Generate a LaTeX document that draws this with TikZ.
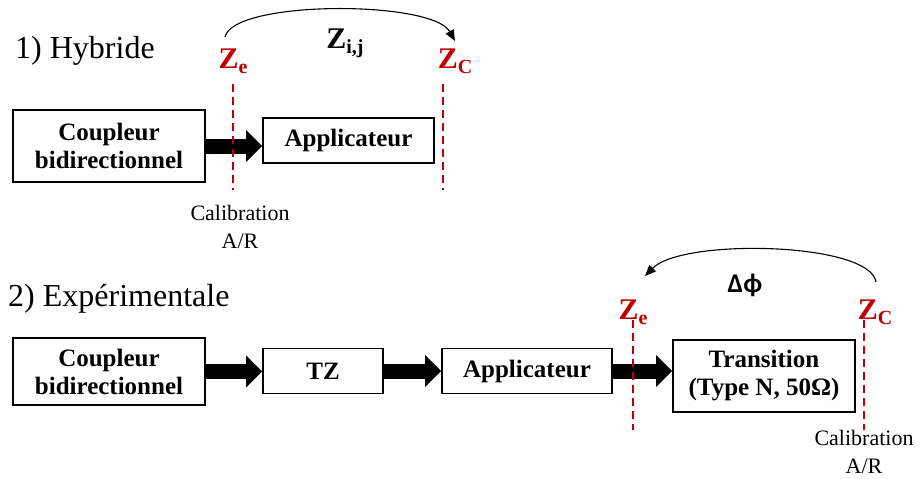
\documentclass[tikz,border=0pt]{standalone}
\usepackage{fontspec}
\setmainfont{Liberation Serif}
\newfontfamily\calib{Carlito}
\usetikzlibrary{arrows.meta}
\definecolor{zred}{HTML}{C00000}
\newcommand{\zlab}[1]{Z\raisebox{-0.35ex}{\fontsize{20}{20}\selectfont #1}}
\begin{document}
\begin{tikzpicture}[x=1pt,y=-1pt,
  box/.style={draw=black,line width=1.8pt,fill=white,align=center,inner sep=0pt,
    font=\bfseries\fontsize{25}{28}\selectfont},
  fat/.style={line width=15pt,-{Triangle[length=16pt,width=31pt]}},
  cut/.style={draw=zred,line width=2pt,dash pattern=on 8pt off 5pt},
  zl/.style={text=zred,font=\bfseries\fontsize{30}{30}\selectfont,inner sep=0pt},
  arc/.style={line width=1.1pt,-{Triangle[length=11pt,width=9pt]}},
  title/.style={anchor=base west,inner sep=0pt,font=\fontsize{32}{32}\selectfont},
  calib/.style={align=center,inner sep=0pt,font=\fontsize{22}{28}\selectfont}]
\useasboundingbox (0,0) rectangle (924,479);
% ---- row 1
\node[title] (t1) at (15,58) {1) Hybride};
\node[box,minimum width=192pt,minimum height=72pt] (c1) at (109,146) {Coupleur\\bidirectionnel};
\node[box,minimum width=171pt,minimum height=45pt] (a1) at (348.5,140.5) {Applicateur};
\draw[fat] (c1.east) -- (c1.east -| a1.west);
\coordinate (d1t) at (233,84); \coordinate (d1b) at (233,190);
\coordinate (d2t) at (443,84); \coordinate (d2b) at (443,190);
\draw[cut] (d1t) -- (d1b);
\draw[cut] (d2t) -- (d2b);
\node[zl] (ze1) at (233,61) {\zlab{e}};
\node[zl] (zc1) at (455,61) {\zlab{C}};
\node[font=\bfseries\fontsize{30}{30}\selectfont,inner sep=0pt] (zij) at (345,43) {Z\raisebox{-0.35ex}{\fontsize{20}{20}\selectfont i,j}};
\coordinate (s1) at (225,37); \coordinate (e1) at (455,41);
\draw[arc] (s1) .. controls (233,0) and (432,0) .. (e1);
\node[calib] (cal1) at (240,227) {Calibration\\A/R};
% ---- row 2
\node[title] (t2) at (8,306) {2) Expérimentale};
\node[box,minimum width=192pt,minimum height=67pt] (c2) at (109,371.5) {Coupleur\\bidirectionnel};
\node[box,minimum width=120pt,minimum height=45pt] (tz) at (323,371) {TZ};
\node[box,minimum width=170pt,minimum height=45pt] (a2) at (527,371) {Applicateur};
\node[box,minimum width=182pt,minimum height=72pt] (tr) at (764,376) {Transition\\(Type N, 50Ω)};
\draw[fat] (c2.east) -- (c2.east -| tz.west);
\draw[fat] (tz.east) -- (tz.east -| a2.west);
\draw[fat] (a2.east) -- (a2.east -| tr.west);
\coordinate (d3t) at (633,320); \coordinate (d3b) at (633,430);
\coordinate (d4t) at (864,320); \coordinate (d4b) at (864,430);
\draw[cut] (d3t) -- (d3b);
\draw[cut] (d4t) -- (d4b);
\node[zl] (ze2) at (633,312) {\zlab{e}};
\node[zl] (zc2) at (875,312) {\zlab{C}};
\node[font=\calib\bfseries\fontsize{27}{27}\selectfont,inner sep=0pt] (dphi) at (745,285) {Δϕ};
\coordinate (s2) at (876,282); \coordinate (e2) at (645,276);
\draw[arc] (s2) .. controls (870,242) and (682,238) .. (e2);
\node[calib] (cal2) at (864,452) {Calibration\\A/R};
\end{tikzpicture}
\end{document}
